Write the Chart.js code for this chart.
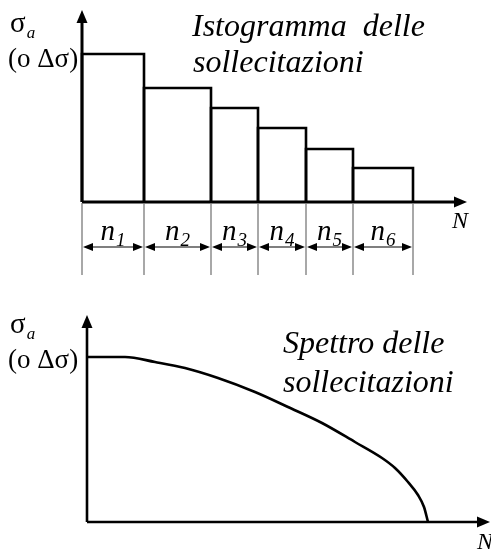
<!DOCTYPE html>
<html>
<head>
<meta charset="utf-8">
<script src="https://cdn.jsdelivr.net/npm/chart.js@4.4.0/dist/chart.umd.min.js"></script>
<style>
  body { margin: 0; background: #fff; }
  #wrap { position: relative; width: 491px; height: 551px; }
  canvas { position: absolute; left: 0; }
</style>
</head>
<body>
<div id="wrap">
  <canvas id="histo" width="491" height="290" style="top:0"></canvas>
  <canvas id="spectrum" width="491" height="261" style="top:290px"></canvas>
</div>
<script>
// load blocks: edges along N and stress amplitude of each block
const blockEdges = [0, 62, 129, 176, 224, 271, 331];
const blockStress = [148, 114, 94, 74, 53, 34];
const blockLabels = ['1', '2', '3', '4', '5', '6'];

// continuous load spectrum
const spectrumN = [0, 38, 68, 98, 131, 168, 201, 235, 268, 295, 308, 321, 331, 337, 341];
const spectrumStress = [165, 165, 160, 154, 144, 130, 115, 99, 80, 64, 54, 40, 27, 15, 0];

const SERIF = "'Liberation Serif', 'Times New Roman', serif";

function arrowHead(ctx, x, y, ang, len, half) {
  ctx.save();
  ctx.translate(x, y);
  ctx.rotate(ang);
  ctx.beginPath();
  ctx.moveTo(0, 0);
  ctx.lineTo(-len, -half);
  ctx.lineTo(-len, half);
  ctx.closePath();
  ctx.fill();
  ctx.restore();
}

function subText(ctx, main, sub, x, y, mainFont, subFont, dy) {
  ctx.font = mainFont;
  ctx.fillText(main, x, y);
  const w = ctx.measureText(main).width;
  ctx.font = subFont;
  ctx.fillText(sub, x + w + 1, y + dy);
  return w;
}

// axes with arrows plus the sigma label, drawn over both charts
const axesPlugin = {
  id: 'axes',
  afterDatasetsDraw(chart, args, opts) {
    const ctx = chart.ctx;
    const a = chart.chartArea;
    ctx.save();
    ctx.strokeStyle = '#000';
    ctx.fillStyle = '#000';
    ctx.lineWidth = opts.width;
    ctx.beginPath();
    ctx.moveTo(a.left, a.bottom);
    ctx.lineTo(a.right - 10, a.bottom);
    ctx.moveTo(a.left, a.bottom);
    ctx.lineTo(a.left, a.top + 10);
    ctx.stroke();
    arrowHead(ctx, a.right, a.bottom, 0, 13, 5.5);
    arrowHead(ctx, a.left, a.top, -Math.PI / 2, 13, 5.5);

    ctx.textBaseline = 'alphabetic';
    subText(ctx, 'σ', 'a', 10, opts.sigmaY, '29px ' + SERIF, 'italic 17px ' + SERIF, 6);
    ctx.font = '27px ' + SERIF;
    ctx.fillText('(o Δσ)', 8, opts.sigmaY + 35);

    ctx.font = 'italic 24px ' + SERIF;
    ctx.fillText('N', opts.nX, opts.nY);

    ctx.font = 'italic 32px ' + SERIF;
    opts.title.forEach(t => ctx.fillText(t[0], t[1], t[2]));
    ctx.restore();
  }
};

// dimension lines under the histogram: n_i for each block
const dimPlugin = {
  id: 'dims',
  afterDatasetsDraw(chart) {
    if (!chart.options.plugins.dims) return;
    const ctx = chart.ctx;
    const xs = chart.scales.x;
    const a = chart.chartArea;
    const px = blockEdges.map(v => xs.getPixelForValue(v));
    ctx.save();
    ctx.strokeStyle = '#7a7a7a';
    ctx.lineWidth = 1.3;
    ctx.beginPath();
    px.forEach(x => { ctx.moveTo(x, a.bottom + 1); ctx.lineTo(x, a.bottom + 73); });
    ctx.stroke();

    const ay = a.bottom + 45;
    ctx.strokeStyle = '#000';
    ctx.fillStyle = '#000';
    ctx.lineWidth = 1.2;
    for (let i = 0; i < px.length - 1; i++) {
      const x0 = px[i], x1 = px[i + 1];
      ctx.beginPath();
      ctx.moveTo(x0 + 4, ay);
      ctx.lineTo(x1 - 4, ay);
      ctx.stroke();
      arrowHead(ctx, x0 + 1, ay, Math.PI, 10, 4);
      arrowHead(ctx, x1 - 1, ay, 0, 10, 4);

      ctx.font = 'italic 29px ' + SERIF;
      const wn = ctx.measureText('n').width;
      ctx.font = 'italic 19px ' + SERIF;
      const ws = ctx.measureText(blockLabels[i]).width;
      const cx = (x0 + x1) / 2 - (wn + ws + 1) / 2;
      subText(ctx, 'n', blockLabels[i], cx, a.bottom + 38, 'italic 29px ' + SERIF, 'italic 19px ' + SERIF, 6);
    }
    ctx.restore();
  }
};

Chart.register(axesPlugin, dimPlugin);

function baseOptions(pad, xMax, yMax) {
  return {
    responsive: false,
    animation: false,
    devicePixelRatio: 1,
    layout: { padding: pad },
    scales: {
      x: { type: 'linear', display: false, min: 0, max: xMax },
      y: { type: 'linear', display: false, min: 0, max: yMax }
    },
    elements: { point: { radius: 0 } },
    plugins: { legend: { display: false }, tooltip: { enabled: false } }
  };
}

// each block is an outlined rectangle from the axis up to its stress level
const blockSets = blockStress.map((h, i) => ({
  data: [
    { x: blockEdges[i], y: 0 },
    { x: blockEdges[i], y: h },
    { x: blockEdges[i + 1], y: h },
    { x: blockEdges[i + 1], y: 0 }
  ],
  borderColor: '#000',
  borderWidth: 2.6,
  fill: false,
  tension: 0,
  clip: false
}));

const histoOpts = baseOptions({ left: 82, right: 24, top: 10, bottom: 88 }, 385, 192);
histoOpts.plugins.axes = {
  width: 3, sigmaY: 32, nX: 452, nY: 228,
  title: [['Istogramma  delle', 192, 36], ['sollecitazioni', 193, 72]]
};
histoOpts.plugins.dims = true;

new Chart(document.getElementById('histo'), {
  type: 'line',
  data: { datasets: blockSets },
  options: histoOpts
});

const specOpts = baseOptions({ left: 87, right: 1, top: 25, bottom: 29 }, 403, 207);
specOpts.plugins.axes = {
  width: 2.6, sigmaY: 43, nX: 477, nY: 259,
  title: [['Spettro delle', 283, 63], ['sollecitazioni', 283, 102]]
};
specOpts.plugins.dims = false;

new Chart(document.getElementById('spectrum'), {
  type: 'line',
  data: {
    datasets: [{
      data: spectrumN.map((n, i) => ({ x: n, y: spectrumStress[i] })),
      borderColor: '#000',
      borderWidth: 2.6,
      fill: false,
      cubicInterpolationMode: 'monotone',
      clip: false
    }]
  },
  options: specOpts
});
</script>
</body>
</html>
